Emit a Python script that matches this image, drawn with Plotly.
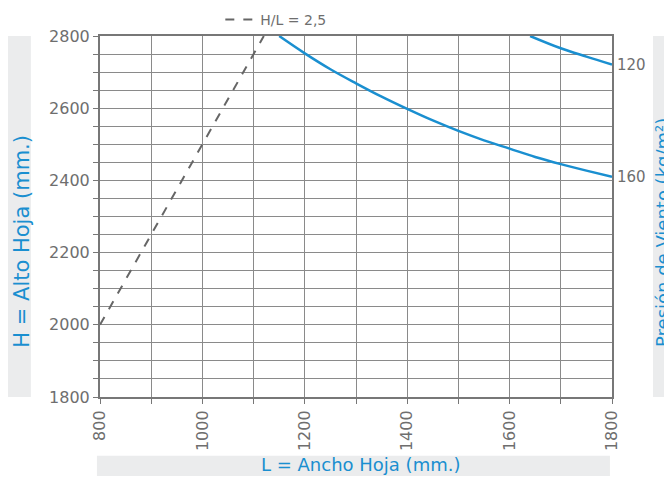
import plotly.graph_objects as go

# Data
ratio_L = [800, 1120]
ratio_H = [2000, 2800]

p160_L = [1150, 1200, 1250, 1300, 1350, 1400, 1450, 1500, 1550, 1600, 1650, 1700, 1750, 1800]
p160_H = [2800, 2752, 2708, 2669, 2632, 2598, 2566, 2537, 2511, 2488, 2465, 2445, 2427, 2410]

p120_L = [1640, 1700, 1750, 1800]
p120_H = [2800, 2766, 2743, 2721]

curve_labels = ["120", "160"]

BLUE = "#1a8fd0"
GRAY = "#6e6e6e"
FONT = "DejaVu Sans"

fig = go.Figure()
fig.add_trace(go.Scatter(x=ratio_L, y=ratio_H, mode="lines", name="H/L = 2,5",
                         line=dict(color="#666666", width=2, dash="dash")))
fig.add_trace(go.Scatter(x=p160_L, y=p160_H, mode="lines", showlegend=False,
                         line=dict(color=BLUE, width=2.5, shape="spline")))
fig.add_trace(go.Scatter(x=p120_L, y=p120_H, mode="lines", showlegend=False,
                         line=dict(color=BLUE, width=2.5, shape="spline")))

for lab, yv in zip(curve_labels, [p120_H[-1], p160_H[-1]]):
    fig.add_annotation(x=1800, y=yv, text=lab, showarrow=False, xanchor="left",
                       yanchor="middle", xshift=3, font=dict(family=FONT, size=15, color=GRAY))

# axis title boxes
fig.add_shape(type="rect", xref="paper", yref="paper", x0=-0.180, x1=-0.135, y0=0, y1=1,
              fillcolor="#ebeced", line=dict(width=0), layer="below")
fig.add_shape(type="rect", xref="paper", yref="paper", x0=1.080, x1=1.12, y0=0, y1=1,
              fillcolor="#ebeced", line=dict(width=0), layer="below")
fig.add_shape(type="rect", xref="paper", yref="paper", x0=-0.006, x1=0.996, y0=-0.219, y1=-0.163,
              fillcolor="#ebeced", line=dict(width=0), layer="below")

fig.add_annotation(xref="paper", yref="paper", x=-0.153, y=0.432, text="H = Alto Hoja (mm.)",
                   textangle=-90, showarrow=False, xanchor="center", yanchor="middle",
                   font=dict(family=FONT, size=21, color=BLUE))
fig.add_annotation(xref="paper", yref="paper", x=1.0975, y=0.457, text="Presión de Viento (kg/m²)",
                   textangle=-90, showarrow=False, xanchor="center", yanchor="middle",
                   font=dict(family=FONT, size=18, color=BLUE))
fig.add_annotation(xref="paper", yref="paper", x=0.508, y=-0.188, text="L = Ancho Hoja (mm.)",
                   showarrow=False, xanchor="center", yanchor="middle",
                   font=dict(family=FONT, size=18, color=BLUE))

fig.update_xaxes(range=[800, 1800], dtick=200, tick0=800, tickangle=-90,
                 showgrid=True, gridcolor="#8a8a8a", gridwidth=1,
                 ticks="outside", ticklen=5, tickcolor="#777",
                 showline=True, linecolor="#777", linewidth=2, mirror=True,
                 minor=dict(dtick=100, showgrid=True, gridcolor="#8a8a8a", ticks="outside",
                            ticklen=5, tickcolor="#777"),
                 tickfont=dict(family=FONT, size=16, color=GRAY), zeroline=False)
fig.update_yaxes(range=[1800, 2800], dtick=200, tick0=1800,
                 showgrid=True, gridcolor="#8a8a8a", gridwidth=1,
                 ticks="outside", ticklen=5, tickcolor="#777",
                 showline=True, linecolor="#777", linewidth=2, mirror=True,
                 minor=dict(dtick=50, showgrid=True, gridcolor="#8a8a8a", ticks="outside",
                            ticklen=5, tickcolor="#777"),
                 tickfont=dict(family=FONT, size=16, color=GRAY), zeroline=False)

fig.update_layout(width=664, height=469,
                  margin=dict(l=92, r=60, t=28, b=80, autoexpand=False),
                  paper_bgcolor="white", plot_bgcolor="white",
                  legend=dict(orientation="h", x=0.235, y=1.0, yanchor="bottom", xanchor="left",
                              font=dict(family=FONT, size=14, color=GRAY),
                              bgcolor="rgba(0,0,0,0)"))

fig.write_html("out.html")
